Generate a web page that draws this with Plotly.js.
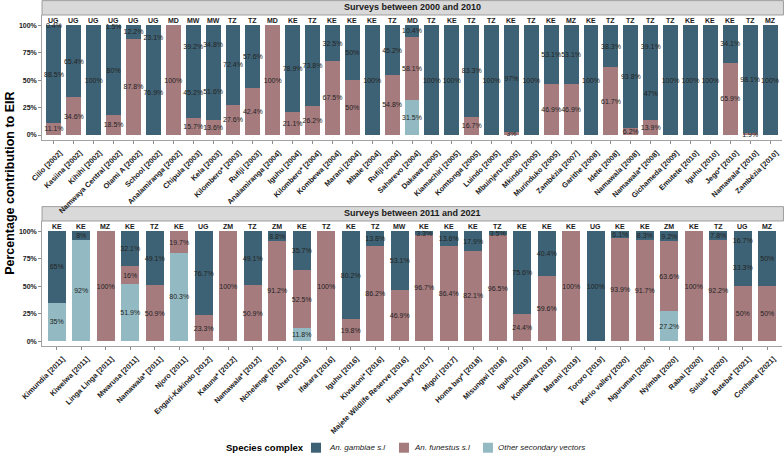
<!DOCTYPE html>
<html>
<head>
<meta charset="utf-8">
<script src="https://cdn.plot.ly/plotly-3.0.1.min.js"></script>
<style>html,body{margin:0;padding:0;background:#fff;}#chart{width:784px;height:454px;}</style>
</head>
<body>
<div id="chart"></div>
<script>
// ---------- Panel 1: surveys between 2000 and 2010 ----------
const sites1 = ["Cilio [2002]","Kasiina [2002]","Kihihi [2002]","Namwaya Central [2002]","Olami A [2002]","School [2002]","Analamiranga [2002]","Chipula [2003]","Kela [2003]","Kilombero* [2003]","Rufiji [2003]","Analamiranga [2004]","Iguhu [2004]","Kilombero* [2004]","Kombewa [2004]","Marani [2004]","Mbale [2004]","Rufiji [2004]","Saharevo [2004]","Dakawa [2005]","Kiamachiri [2005]","Komtonga [2005]","Luindo [2005]","Mbuinjeru [2005]","Mkindo [2005]","Murinduko [2005]","Zambézia [2007]","Garithe [2008]","Idete [2008]","Namawala [2008]","Namawala* [2008]","Gichameda [2009]","Emutete [2010]","Iguhu [2010]","Jego* [2010]","Namawala* [2010]","Zambézia [2010]"];
const countries1 = ["UG","UG","UG","UG","UG","UG","MD","MW","MW","TZ","TZ","MD","KE","TZ","KE","KE","KE","TZ","MD","TZ","KE","TZ","TZ","KE","TZ","KE","MZ","KE","TZ","TZ","TZ","TZ","KE","KE","KE","TZ","MZ"];
const other1    = [null,null,null,null,null,null,null,null,null,null,null,null,null,null,null,null,null,null,31.5,null,null,null,null,null,null,null,null,null,null,null,null,null,null,null,null,null,null];
const funestus1 = [11.1,34.6,null,18.5,87.8,null,100,15.7,13.6,27.6,42.4,100,21.1,26.2,67.5,50,null,54.8,58.1,null,null,16.7,null,3,null,46.9,46.9,null,61.7,6.2,13.9,null,null,null,65.9,1.9,null];
const gambiae1  = [88.5,65.4,100,80,12.2,76.9,null,45.2,51.6,72.4,57.6,null,78.9,73.8,32.5,50,100,45.2,10.4,100,100,83.3,100,97,100,53.1,53.1,100,38.3,93.8,47,100,100,100,34.1,98.1,100];
const gambiaeB1 = [0.4,null,null,1.5,null,23.1,null,39.2,34.8,null,null,null,null,null,null,null,null,null,null,null,null,null,null,null,null,null,null,null,null,null,39.1,null,null,null,null,null,null];

// ---------- Panel 2: surveys between 2011 and 2021 ----------
const sites2 = ["Kimundia [2011]","Kiwelwa [2011]","Linga Linga [2011]","Mwarusa [2011]","Namawala* [2011]","Njoro [2011]","Engari-Kakindo [2012]","Katuna* [2012]","Namawala* [2012]","Nchelenge [2013]","Ahero [2016]","Ifakara [2016]","Iguhu [2016]","Kivukoni* [2016]","Majete Wildlife Reserve [2016]","Homa bay* [2017]","Migori [2017]","Homa bay* [2018]","Misungwi [2018]","Iguhu [2019]","Kombewa [2019]","Marani [2019]","Tororo [2019]","Kerio valley [2020]","Nguruman [2020]","Nyimba [2020]","Rabai [2020]","Sululu* [2020]","Buteba* [2021]","Conhane [2021]"];
const countries2 = ["KE","KE","MZ","KE","TZ","KE","UG","ZM","TZ","ZM","KE","TZ","KE","TZ","MW","KE","KE","KE","TZ","KE","KE","KE","UG","KE","KE","ZM","KE","TZ","UG","MZ"];
const other2    = [35,92,null,51.9,null,80.3,null,null,null,null,11.8,null,null,null,null,null,null,null,null,null,null,null,null,null,null,27.2,null,null,null,null];
const funestus2 = [null,null,100,16,50.9,19.7,23.3,100,50.9,91.2,52.5,100,19.8,86.2,46.9,96.7,86.4,82.1,96.5,24.4,59.6,100,null,93.9,91.7,63.6,100,92.2,50,50];
const gambiae2  = [65,8,null,32.1,49.1,null,76.7,null,49.1,8.8,35.7,null,80.2,13.8,53.1,3.3,13.6,17.9,3.5,75.6,40.4,null,100,6.1,8.3,9.2,null,7.8,33.3,50];
const gambiaeB2 = [null,null,null,null,null,null,null,null,null,null,null,null,null,null,null,null,null,null,null,null,null,null,null,null,null,null,null,null,16.7,null];

const panelTitles = ["Surveys between 2000 and 2010","Surveys between 2011 and 2021"];
const legendTitle = "Species complex";
const legendNames = ["An. gambiae s.l","An. funestus s.l","Other secondary vectors"];

// ---------- styling ----------
const FONT = "Liberation Sans, Arial, Helvetica, sans-serif";
const C_GAMB = "#3E6275", C_FUN = "#A67B7E", C_OTH = "#93BAC3";
const legendColors = [C_GAMB, C_FUN, C_OTH];
const YR = [-4.5, 109.3];

function lbl(arr){ return arr.map(v => (v === null || v === undefined) ? "" : (v + "%")); }

const traces = [];
function addPanel(sites, oth, fun, gam, gamB, xa, ya){
  const series = [
    {y: oth, color: C_OTH, name: legendNames[2]},
    {y: fun, color: C_FUN, name: legendNames[1]},
    {y: gam, color: C_GAMB, name: legendNames[0]},
    {y: gamB, color: C_GAMB, name: legendNames[0]}
  ];
  series.forEach(s => {
    traces.push({
      type: "bar", x: sites, y: s.y, xaxis: xa, yaxis: ya,
      name: s.name, showlegend: false,
      marker: {color: s.color, line: {width: 0}},
      text: lbl(s.y), textposition: "inside", insidetextanchor: "middle",
      textangle: 0, constraintext: "none",
      insidetextfont: {family: FONT, size: 7, color: "#222"},
      hoverinfo: "skip"
    });
  });
}
addPanel(sites1, other1, funestus1, gambiae1, gambiaeB1, "x", "y");
addPanel(sites2, other2, funestus2, gambiae2, gambiaeB2, "x2", "y2");

const annotations = [];
function codes(sites, cc, xa, ya){
  sites.forEach((s,i) => annotations.push({
    x: s, y: 104.3, xref: xa, yref: ya, xanchor: "center", yanchor: "middle", text: cc[i], showarrow: false,
    font: {family: FONT, size: 7, color: "#1a1a1a", weight: "bold"}
  }));
}
codes(sites1, countries1, "x", "y");
codes(sites2, countries2, "x2", "y2");

const TOP_DOM = [0.6224, 1], BOT_DOM = [0, 0.3776];
const STRIP_H = 0.0435;
[TOP_DOM, BOT_DOM].forEach((d, i) => annotations.push({
  x: 0.5, y: d[1] + STRIP_H/2 + 0.001, xref: "paper", yref: "paper", xanchor: "center", yanchor: "middle",
  text: panelTitles[i], showarrow: false, font: {family: FONT, size: 9, color: "#1a1a1a", weight: "bold"}}));
annotations.push({x: -0.0432, y: 0.49, xref: "paper", yref: "paper", xanchor: "center", yanchor: "middle",
  text: "Percentage contribution to EIR", textangle: -90,
  showarrow: false, font: {family: FONT, size: 12.5, color: "#000", weight: "bold"}});

const shapes = [TOP_DOM, BOT_DOM].map(d => ({type: "rect", xref: "paper", yref: "paper", layer: "below", x0: 0, x1: 1.002,
  y0: d[1], y1: d[1] + STRIP_H, fillcolor: "#D9D9D9", line: {color: "#8c8c8c", width: 0.8}}));

// ---------- legend (bottom, centred) ----------
const LEG_Y = -0.3073, SW_H = 0.0302;
const legSwatchX = [0.3635, 0.4824, 0.5959];
const legTextX = [0.3851, 0.5, 0.6135];
annotations.push({x: 0.3568, y: LEG_Y, xref: "paper", yref: "paper", xanchor: "right", yanchor: "middle",
  text: legendTitle, showarrow: false, font: {family: FONT, size: 9.5, color: "#000", weight: "bold"}});
legendNames.forEach((n, i) => {
  shapes.push({type: "rect", xref: "paper", yref: "paper", x0: legSwatchX[i], x1: legSwatchX[i] + 0.0135,
    y0: LEG_Y - SW_H/2, y1: LEG_Y + SW_H/2, fillcolor: legendColors[i], line: {width: 0}});
  annotations.push({x: legTextX[i], y: LEG_Y, xref: "paper", yref: "paper", xanchor: "left", yanchor: "middle",
    text: "<i>" + n + "</i>", showarrow: false, font: {family: FONT, size: 8, color: "#1a1a1a"}});
});

function xAxis(anchor, n){
  return {anchor: anchor, domain: [0, 1], type: "category", range: [-0.6, n - 0.4],
    tickangle: -45, tickfont: {family: FONT, size: 7.4, color: "#1a1a1a", weight: "bold"},
    ticklabelstandoff: 2, ticklabelshift: 6,
    ticks: "outside", ticklen: 3, tickcolor: "#8c8c8c", showline: true, linecolor: "#8c8c8c", linewidth: 0.8,
    showgrid: false, zeroline: false, fixedrange: true};
}
function yAxis(anchor, dom){
  return {anchor: anchor, domain: dom, range: YR, tickvals: [0,25,50,75,100], ticktext: ["0%","25%","50%","75%","100%"],
    tickfont: {family: FONT, size: 7, color: "#1a1a1a", weight: "bold"},
    ticks: "outside", ticklen: 3, tickcolor: "#8c8c8c", showline: true, linecolor: "#8c8c8c", linewidth: 0.8,
    showgrid: false, zeroline: false, fixedrange: true};
}

const layout = {
  width: 784, height: 454,
  margin: {l: 42, r: 2, t: 15, b: 108, pad: 0},
  paper_bgcolor: "#fff", plot_bgcolor: "#fff",
  barmode: "stack", bargap: 0.25,
  font: {family: FONT, color: "#1a1a1a"},
  xaxis: xAxis("y", sites1.length), yaxis: yAxis("x", TOP_DOM),
  xaxis2: xAxis("y2", sites2.length), yaxis2: yAxis("x2", BOT_DOM),
  showlegend: false,
  annotations: annotations, shapes: shapes, hovermode: false
};

Plotly.newPlot("chart", traces, layout, {displayModeBar: false, staticPlot: true});
</script>
</body>
</html>
